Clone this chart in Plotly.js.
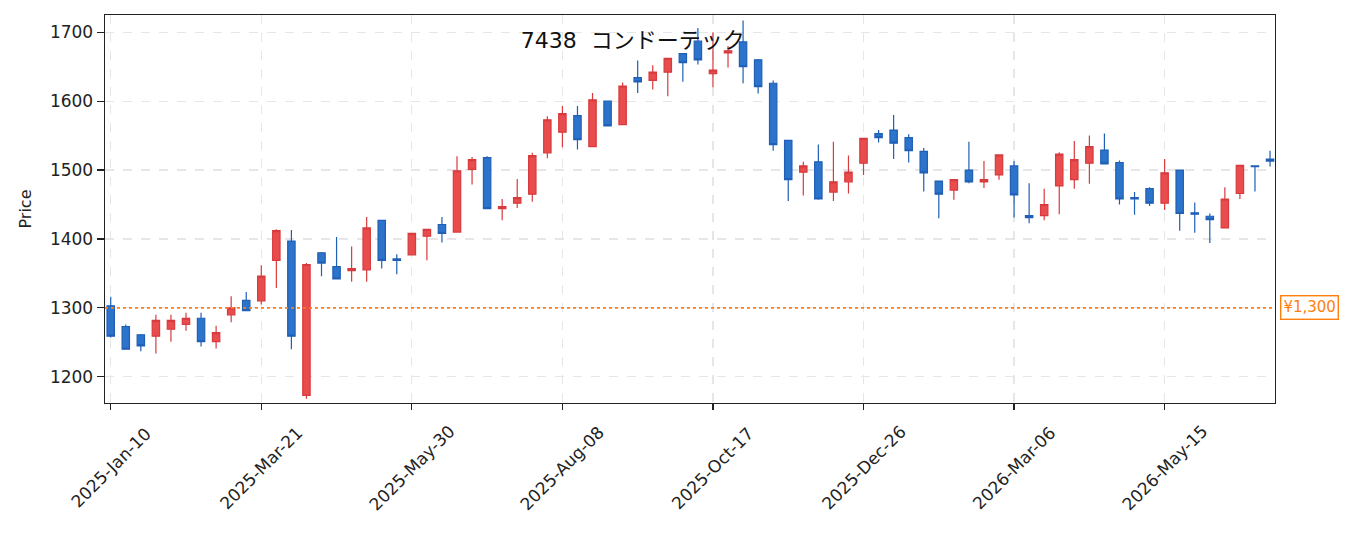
<!DOCTYPE html>
<html>
<head>
<meta charset="utf-8">
<script src="https://cdn.plot.ly/plotly-3.0.1.min.js"></script>
<style>
  html, body { margin: 0; padding: 0; background: #fff; }
  #chart { width: 1355px; height: 533px; }
</style>
</head>
<body>
<div id="chart"></div>
<script>
// weekly bars, 7438 コンドーテック
const dates = [
  '2025-01-10','2025-01-17','2025-01-24','2025-01-31','2025-02-07','2025-02-14','2025-02-21','2025-02-28',
  '2025-03-07','2025-03-14','2025-03-21','2025-03-28','2025-04-04','2025-04-11','2025-04-18','2025-04-25',
  '2025-05-02','2025-05-09','2025-05-16','2025-05-23','2025-05-30','2025-06-06','2025-06-13','2025-06-20',
  '2025-06-27','2025-07-04','2025-07-11','2025-07-18','2025-07-25','2025-08-01','2025-08-08','2025-08-15',
  '2025-08-22','2025-08-29','2025-09-05','2025-09-12','2025-09-19','2025-09-26','2025-10-03','2025-10-10',
  '2025-10-17','2025-10-24','2025-10-31','2025-11-07','2025-11-14','2025-11-21','2025-11-28','2025-12-05',
  '2025-12-12','2025-12-19','2025-12-26','2026-01-02','2026-01-09','2026-01-16','2026-01-23','2026-01-30',
  '2026-02-06','2026-02-13','2026-02-20','2026-02-27','2026-03-06','2026-03-13','2026-03-20','2026-03-27',
  '2026-04-03','2026-04-10','2026-04-17','2026-04-24','2026-05-01','2026-05-08','2026-05-15','2026-05-22',
  '2026-05-29','2026-06-05','2026-06-12','2026-06-19','2026-06-26','2026-07-03'
];

const open = [
  1303,1273,1261,1259,1269,1276,1285,1251,1290,1311,1310,1369,1397,1173,1380,1360,
  1354,1355,1427,1371,1377,1404,1421,1410,1501,1518,1444,1452,1465,1525,1555,1579,
  1534,1600,1566,1634,1630,1642,1669,1687,1640,1670,1686,1660,1626,1543,1497,1512,
  1468,1483,1510,1553,1558,1547,1527,1484,1471,1500,1483,1493,1506,1434,1434,1477,
  1486,1510,1529,1511,1460,1473,1452,1500,1438,1433,1416,1466,1506,1516
];
const high = [
  1316,1276,1262,1290,1290,1293,1293,1274,1317,1323,1362,1414,1413,1365,1381,1403,
  1389,1432,1427,1378,1409,1414,1432,1520,1519,1520,1458,1487,1525,1578,1593,1593,
  1612,1601,1627,1659,1652,1663,1670,1706,1700,1680,1717,1661,1630,1544,1512,1537,
  1541,1521,1546,1558,1580,1552,1532,1485,1486,1541,1513,1522,1513,1481,1473,1526,
  1542,1550,1553,1514,1468,1475,1516,1500,1453,1437,1475,1507,1507,1528
];
const low = [
  1257,1240,1237,1234,1251,1267,1244,1241,1279,1296,1305,1329,1240,1168,1346,1342,
  1338,1338,1357,1349,1377,1369,1395,1410,1479,1444,1427,1445,1454,1517,1533,1530,
  1534,1564,1566,1612,1617,1607,1628,1653,1620,1649,1626,1611,1528,1455,1463,1457,
  1455,1466,1493,1540,1516,1511,1469,1430,1457,1481,1474,1486,1431,1423,1427,1436,
  1473,1480,1508,1450,1435,1448,1442,1412,1409,1394,1416,1458,1469,1505
];
const close = [
  1259,1240,1245,1282,1282,1285,1251,1264,1300,1296,1346,1412,1259,1363,1365,1342,
  1357,1416,1369,1369,1408,1414,1408,1499,1515,1444,1447,1460,1521,1573,1582,1544,
  1602,1564,1622,1628,1642,1662,1656,1660,1645,1673,1650,1621,1537,1486,1506,1458,
  1483,1497,1546,1547,1539,1528,1496,1465,1486,1483,1486,1522,1464,1431,1450,1523,
  1515,1534,1509,1458,1458,1452,1496,1437,1436,1428,1458,1507,1505,1513
];

const tickDates = ['2025-01-10','2025-03-21','2025-05-30','2025-08-08','2025-10-17','2025-12-26','2026-03-06','2026-05-15'];
const tickLabels = ['2025-Jan-10','2025-Mar-21','2025-May-30','2025-Aug-08','2025-Oct-17','2025-Dec-26','2026-Mar-06','2026-May-15'];
const yTicks = [1200, 1300, 1400, 1500, 1600, 1700];
const refPrice = 1300;
const refLabel = '¥1,300';

const trace = {
  type: 'candlestick',
  x: dates, open: open, high: high, low: low, close: close,
  increasing: { line: { color: '#d83b3d', width: 1.2 }, fillcolor: '#e84c4c' },
  decreasing: { line: { color: '#1f5fb5', width: 1.2 }, fillcolor: '#2c73cb' },
  whiskerwidth: 0,
  showlegend: false,
  hoverinfo: 'x+y'
};

const axFont = '"DejaVu Sans", "Noto Sans CJK JP", sans-serif';
const titleFont = '"DejaVu Sans", "Noto Sans CJK JP", sans-serif';

// x tick labels centred under the tick, matplotlib style
const tickAnnots = tickDates.map((d, i) => ({
  xref: 'x', x: d, yref: 'paper', y: 0, yshift: -65,
  xanchor: 'center', yanchor: 'middle',
  text: tickLabels[i], textangle: -45, showarrow: false,
  font: { size: 17, color: '#222', family: axFont }
}));

const layout = {
  width: 1355, height: 533,
  margin: { l: 105, r: 80, t: 15, b: 130 },
  paper_bgcolor: '#fff', plot_bgcolor: '#fff',
  font: { family: axFont, size: 17, color: '#222' },
  title: {
    text: '7438  コンドーテック',
    font: { size: 22, color: '#111', family: titleFont },
    x: 0.467, xanchor: 'center', xref: 'container',
    y: 0.924, yanchor: 'middle', yref: 'container'
  },
  xaxis: {
    type: 'category',
    range: [-0.38, 77.33],
    tickvals: tickDates, ticktext: tickLabels,
    showticklabels: false,
    ticks: 'outside', ticklen: 6, tickcolor: '#222', tickwidth: 1.2,
    showgrid: true, gridcolor: '#e6e6e6', griddash: 'dash', gridwidth: 1.2,
    showline: true, linecolor: '#222', linewidth: 1.4, mirror: true,
    rangeslider: { visible: false },
    zeroline: false
  },
  yaxis: {
    range: [1162, 1725],
    tickvals: yTicks,
    ticks: 'outside', ticklen: 7, tickcolor: '#222', tickwidth: 1.2,
    tickfont: { size: 17, color: '#222' },
    showgrid: true, gridcolor: '#e6e6e6', griddash: 'dash', gridwidth: 1.2,
    showline: true, linecolor: '#222', linewidth: 1.4, mirror: true,
    zeroline: false,
    title: { text: 'Price', font: { size: 16 }, standoff: 14 }
  },
  shapes: [{
    type: 'line', xref: 'paper', x0: 0, x1: 1, yref: 'y', y0: refPrice, y1: refPrice,
    line: { color: '#ff7f0e', width: 1.8, dash: 'dot' }
  }],
  annotations: [{
    xref: 'paper', x: 1.004, xanchor: 'left', yref: 'y', y: refPrice, yanchor: 'middle',
    text: refLabel, showarrow: false,
    font: { size: 15, color: '#ff7f0e' },
    bgcolor: '#fff', bordercolor: '#ff7f0e', borderwidth: 1.4, borderpad: 2
  }].concat(tickAnnots)
};

Plotly.newPlot('chart', [trace], layout, { displayModeBar: false, staticPlot: true });
</script>
</body>
</html>
